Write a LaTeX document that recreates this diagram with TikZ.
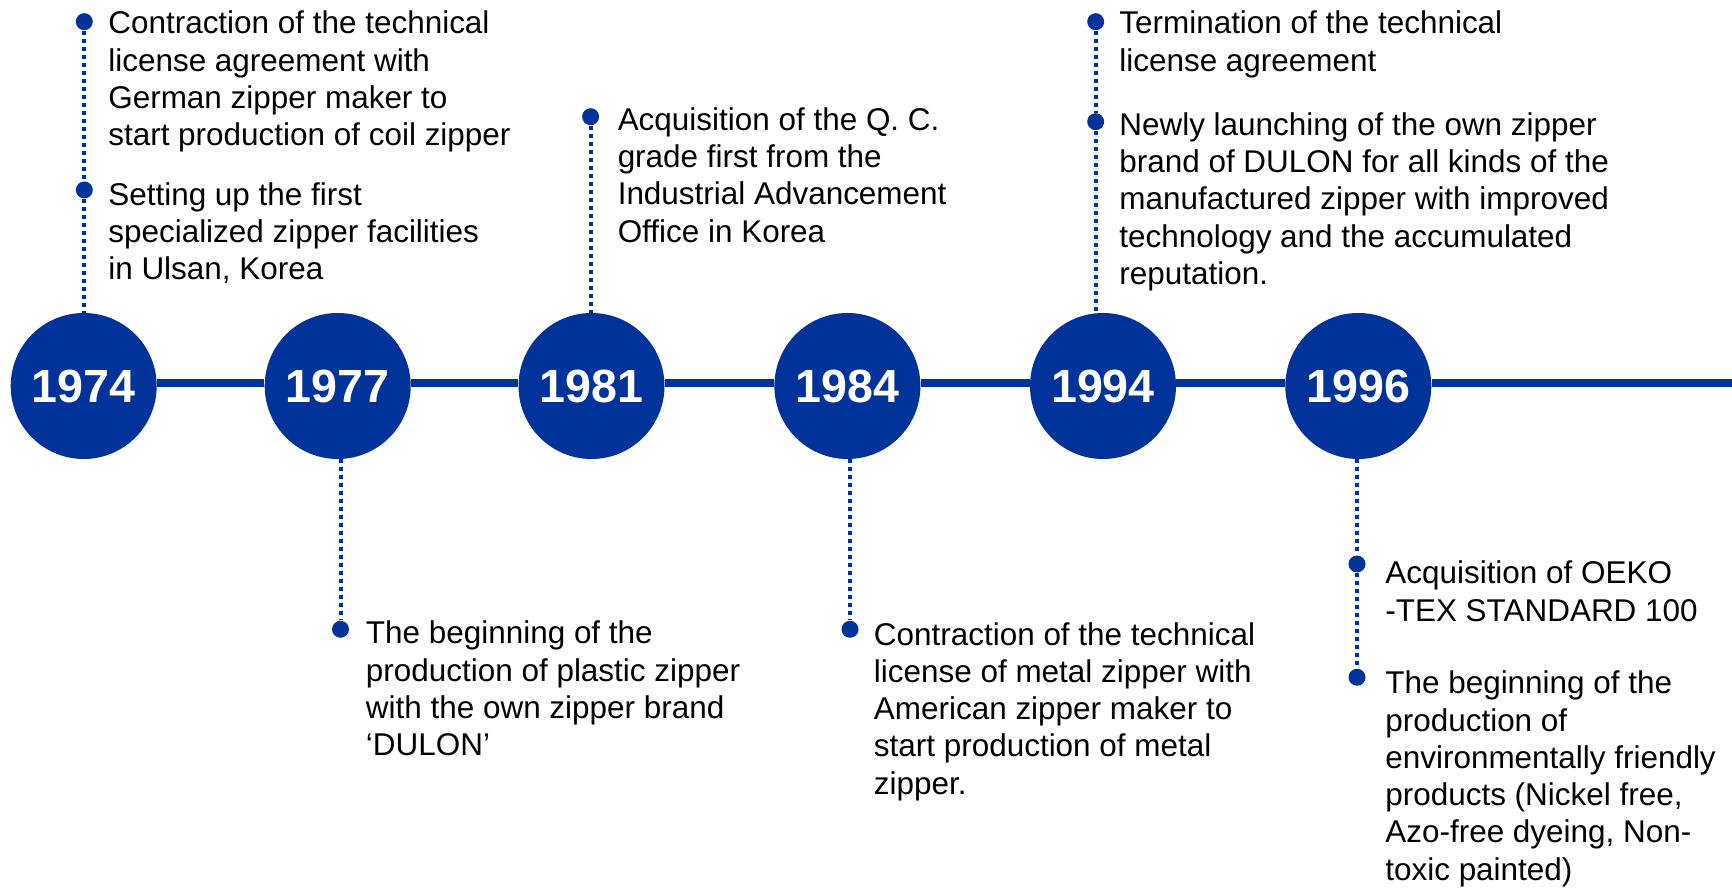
\documentclass[tikz,border=0pt]{standalone}
\usepackage{fontspec}
\setmainfont{Liberation Sans}
\definecolor{r0g51b153}{RGB}{0,51,153}
\tikzset{
  yearcircle/.style={circle, fill=r0g51b153, text=white, minimum size=2.92cm,
    inner sep=0pt, font=\fontsize{26.5}{30}\selectfont\bfseries},
  bulletdot/.style={circle, fill=r0g51b153, minimum size=0.34cm, inner sep=0pt},
  entrytext/.style={anchor=north west, align=left, inner sep=0pt,
    font=\fontsize{17.9}{21.2}\selectfont},
  timeline/.style={draw=r0g51b153, line width=0.166cm},
  dotline/.style={draw=r0g51b153, line width=0.08cm, dash pattern=on 0.08cm off 0.08cm},
}
\begin{document}
\begin{tikzpicture}
\useasboundingbox (0,0) rectangle (34.64,17.82);

% Marking years by circles
\node [yearcircle] (y1974) at (1.674,10.10) {1974};
\node [yearcircle] (y1977) at (6.754,10.10) {1977};
\node [yearcircle] (y1981) at (11.830,10.10) {1981};
\node [yearcircle] (y1984) at (16.948,10.10) {1984};
\node [yearcircle] (y1994) at (22.060,10.10) {1994};
\node [yearcircle] (y1996) at (27.166,10.10) {1996};
\coordinate (lineend) at (34.64,10.16);

% Drawing the time line
\draw [timeline] ([yshift=0.06cm]y1974.east) -- ([yshift=0.06cm]y1977.west);
\draw [timeline] ([yshift=0.06cm]y1977.east) -- ([yshift=0.06cm]y1981.west);
\draw [timeline] ([yshift=0.06cm]y1981.east) -- ([yshift=0.06cm]y1984.west);
\draw [timeline] ([yshift=0.06cm]y1984.east) -- ([yshift=0.06cm]y1994.west);
\draw [timeline] ([yshift=0.06cm]y1994.east) -- ([yshift=0.06cm]y1996.west);
\draw [timeline] ([yshift=0.06cm]y1996.east) -- (lineend);

% Marking events by dots
\node [bulletdot] (d1974a) at (1.686,17.386) {};
\node [bulletdot] (d1974b) at (1.686,14.020) {};
\node [bulletdot] (d1981) at (11.812,15.486) {};
\node [bulletdot] (d1994a) at (21.914,17.386) {};
\node [bulletdot] (d1994b) at (21.914,15.386) {};
\node [bulletdot] (d1977) at (6.810,5.234) {};
\node [bulletdot] (d1984) at (17.000,5.234) {};
\node [bulletdot] (d1996a) at (27.140,6.540) {};
\node [bulletdot] (d1996b) at (27.140,4.274) {};

% Drawing dotted lines from dots to years
\draw [dotline] (d1974a) -- (d1974b);
\draw [dotline] (d1974b) -- (d1974b |- y1974.north);
\draw [dotline] (d1981) -- (d1981 |- y1981.north);
\draw [dotline] (d1994a) -- (d1994b);
\draw [dotline] (d1994b) -- (d1994b |- y1994.north);
\draw [dotline] (d1977 |- y1977.south) -- (d1977);
\draw [dotline] (d1984 |- y1984.south) -- (d1984);
\draw [dotline] (d1996a |- y1996.south) -- (d1996a);
\draw [dotline] (d1996a) -- (d1996b);

% Writing event texts
\node [entrytext] (t1974a) at (2.160,17.606) {Contraction of the technical\\license agreement with\\German zipper maker to\\start production of coil zipper};
\node [entrytext] (t1974b) at (2.160,14.174) {Setting up the first\\specialized zipper facilities\\in Ulsan, Korea};
\node [entrytext] (t1981) at (12.348,15.674) {Acquisition of the Q. C.\\grade first from the\\Industrial Advancement\\Office in Korea};
\node [entrytext] (t1994a) at (22.380,17.606) {Termination of the technical\\license agreement};
\node [entrytext] (t1994b) at (22.380,15.574) {Newly launching of the own zipper\\brand of DULON for all kinds of the\\manufactured zipper with improved\\technology and the accumulated\\reputation.};
\node [entrytext] (t1977) at (7.312,5.406) {The beginning of the\\production of plastic zipper\\with the own zipper brand\\‘DULON’};
\node [entrytext] (t1984) at (17.472,5.380) {Contraction of the technical\\license of metal zipper with\\American zipper maker to\\start production of metal\\zipper.};
\node [entrytext] (t1996a) at (27.700,6.606) {Acquisition of OEKO\\-TEX STANDARD 100};
\node [entrytext] (t1996b) at (27.700,4.406) {The beginning of the\\production of\\environmentally friendly\\products (Nickel free,\\Azo-free dyeing, Non-\\toxic painted)};
\end{tikzpicture}
\end{document}
